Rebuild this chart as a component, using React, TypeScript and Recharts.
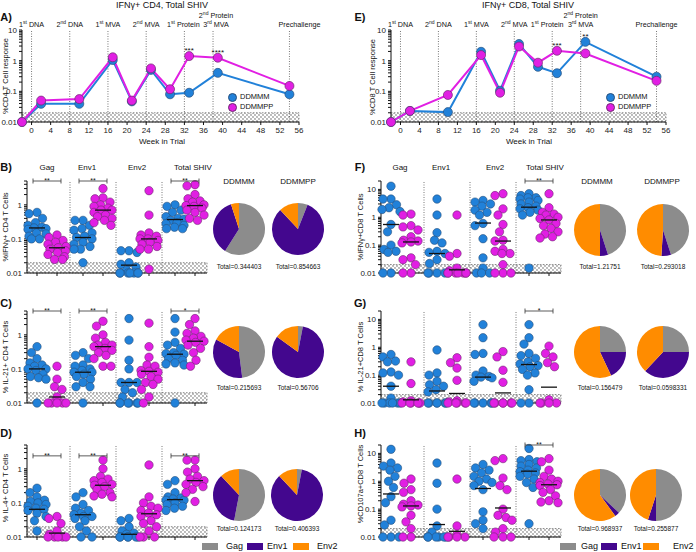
import React from 'react';
import {
	Cell,
	Line,
	LineChart,
	Pie,
	PieChart,
	ReferenceArea,
	ReferenceDot,
	ReferenceLine,
	Scatter,
	ScatterChart,
	XAxis,
	YAxis,
} from 'recharts';

const FONT = '"Liberation Sans", Arial, Helvetica, sans-serif';
const BLUE = '#2181d9';
const BLUE_EDGE = '#28507c';
const MAGENTA = '#e11fe3';
const MAGENTA_EDGE = '#6e2a70';
const PIE_COLORS = ['#8c8c8c', '#43078e', '#ff8c00'];

// ---- A / E time course (weeks in trial)
const weeks = [-2, 2, 10, 17, 21, 25, 29, 33, 39, 54];
const cd4Ddmmm = [0.01, 0.039, 0.039, 1.05, 0.047, 0.5, 0.08, 0.09, 0.4, 0.08];
const cd4Ddmmpp = [0.01, 0.05, 0.056, 1.29, 0.05, 0.56, 0.117, 1.41, 1.25, 0.15];
const cd8Ddmmm = [0.01, 0.023, 0.021, 1.95, 0.105, 3.5, 0.63, 0.39, 4.1, 0.3];
const cd8Ddmmpp = [0.01, 0.023, 0.076, 1.52, 0.09, 2.9, 0.86, 2.1, 1.72, 0.22];
const weekTicks = [0, 4, 8, 12, 16, 20, 24, 28, 32, 36, 40, 44, 48, 52, 56];
const eventWeeks = [0, 8, 16, 24, 32, 38, 54];
const eventLabels = [
	[['1', 'st', ' DNA']],
	[['2', 'nd', ' DNA']],
	[['1', 'st', ' MVA']],
	[['2', 'nd', ' MVA']],
	[['1', 'st', ' Protein']],
	[['2', 'nd', ' Protein'], ['3', 'rd', ' MVA']],
	[['', '', 'Prechallenge']],
];
const cd4Stars = [
	{week: 33, value: 1.41, label: '***'},
	{week: 39, value: 1.25, label: '****'},
];
const cd8Stars = [
	{week: 33, value: 2.1, label: '***'},
	{week: 39, value: 4.1, label: '**'},
];

// ---- dot plots: columns = Gag DDMMM, Gag DDMMPP, Env1 .., Env1 .., Env2 .., Env2 .., Total .., Total ..
const ifnCd4 = [
	[0.6, 0.55, 0.4, 0.3, 0.25, 0.22, 0.21, 0.2, 0.19, 0.15, 0.14, 0.12, 0.1, 0.1],
	[0.13, 0.11, 0.09, 0.08, 0.07, 0.06, 0.055, 0.05, 0.045, 0.04, 0.035, 0.03, 0.025, 0.025],
	[0.35, 0.35, 0.25, 0.2, 0.18, 0.15, 0.12, 0.11, 0.1, 0.08, 0.07, 0.06, 0.05, 0.05, 0.02],
	[3.0, 1.6, 1.5, 1.2, 1.0, 0.9, 0.8, 0.7, 0.7, 0.6, 0.5, 0.45, 0.4, 0.35, 0.3, 0.25],
	[0.045, 0.045, 0.04, 0.02, 0.018, 0.015, 0.012, 0.01, 0.01, 0.01, 0.01, 0.01, 0.01, 0.01],
	[2.6, 0.5, 0.15, 0.13, 0.12, 0.1, 0.1, 0.09, 0.08, 0.07, 0.06, 0.05, 0.05, 0.013],
	[1.0, 0.9, 0.7, 0.6, 0.45, 0.4, 0.38, 0.35, 0.3, 0.28, 0.25, 0.22, 0.2, 0.2],
	[3.9, 3.6, 2.0, 1.5, 1.3, 1.2, 1.0, 0.95, 0.9, 0.8, 0.7, 0.6, 0.5, 0.4, 0.35],
];
const ifnCd4Medians = [0.21, 0.055, 0.11, 0.7, 0.017, 0.1, 0.37, 0.95];

const il21Cd4 = [
	[0.45, 0.3, 0.2, 0.15, 0.13, 0.12, 0.1, 0.1, 0.09, 0.07, 0.06, 0.055, 0.05, 0.01],
	[0.12, 0.05, 0.03, 0.025, 0.015, 0.01, 0.01, 0.01, 0.01, 0.01],
	[0.3, 0.25, 0.2, 0.13, 0.12, 0.1, 0.09, 0.08, 0.08, 0.07, 0.06, 0.05, 0.04, 0.03, 0.03, 0.01],
	[2.5, 1.8, 1.0, 0.8, 0.6, 0.5, 0.5, 0.45, 0.4, 0.35, 0.3, 0.25, 0.2, 0.12, 0.12],
	[3.0, 0.7, 0.18, 0.1, 0.04, 0.04, 0.04, 0.025, 0.02, 0.015, 0.01, 0.01, 0.01, 0.01, 0.01, 0.01],
	[2.2, 0.45, 0.22, 0.13, 0.12, 0.09, 0.085, 0.08, 0.07, 0.06, 0.05, 0.04, 0.035, 0.025, 0.015, 0.01],
	[3.0, 1.2, 0.6, 0.5, 0.4, 0.3, 0.28, 0.27, 0.25, 0.2, 0.18, 0.15, 0.14, 0.13, 0.01],
	[3.0, 2.0, 1.3, 1.1, 0.9, 0.8, 0.7, 0.65, 0.6, 0.5, 0.4, 0.3, 0.18, 0.12],
];
const il21Cd4Medians = [0.1, 0.015, 0.08, 0.45, 0.04, 0.085, 0.27, 0.65];

const il4Cd4 = [
	[0.27, 0.2, 0.15, 0.12, 0.11, 0.1, 0.09, 0.08, 0.07, 0.065, 0.06, 0.05, 0.04, 0.03, 0.015],
	[0.04, 0.035, 0.025, 0.015, 0.012, 0.01, 0.01, 0.01, 0.01, 0.01],
	[0.2, 0.15, 0.09, 0.07, 0.06, 0.05, 0.045, 0.04, 0.04, 0.035, 0.03, 0.02, 0.015, 0.01, 0.01],
	[1.8, 1.0, 0.6, 0.5, 0.45, 0.4, 0.35, 0.33, 0.3, 0.25, 0.2, 0.18, 0.16, 0.15],
	[0.035, 0.03, 0.02, 0.015, 0.013, 0.012, 0.01, 0.01, 0.01, 0.01, 0.01, 0.01],
	[1.3, 0.15, 0.1, 0.08, 0.07, 0.06, 0.05, 0.045, 0.04, 0.03, 0.025, 0.02, 0.015, 0.01, 0.01, 0.01],
	[0.45, 0.35, 0.2, 0.15, 0.14, 0.13, 0.12, 0.12, 0.1, 0.09, 0.08, 0.07, 0.06],
	[1.8, 1.8, 1.0, 0.8, 0.6, 0.5, 0.45, 0.4, 0.35, 0.3, 0.25, 0.2, 0.11],
];
const il4Cd4Medians = [0.065, 0.013, 0.045, 0.33, 0.012, 0.048, 0.125, 0.45];

const ifnCd8 = [
	[13, 4.5, 4.5, 2.8, 2.2, 1.9, 1.6, 0.55, 0.3, 0.1, 0.07, 0.06, 0.055, 0.01, 0.01],
	[1.3, 1.2, 0.5, 0.45, 0.35, 0.2, 0.15, 0.14, 0.13, 0.12, 0.035, 0.03, 0.02, 0.01, 0.01],
	[4.5, 1.2, 0.28, 0.15, 0.12, 0.06, 0.055, 0.05, 0.03, 0.022, 0.01, 0.01, 0.01, 0.01],
	[1.2, 0.05, 0.04, 0.015, 0.012, 0.01, 0.01, 0.01, 0.01, 0.01, 0.01, 0.01],
	[4, 3.5, 3, 2.5, 1.8, 1.5, 1.2, 0.6, 0.5, 0.17, 0.035, 0.015, 0.01, 0.01, 0.01],
	[7, 6, 2, 1.2, 0.55, 0.3, 0.15, 0.14, 0.07, 0.06, 0.05, 0.05, 0.02, 0.01, 0.01, 0.01],
	[7, 6, 5, 5, 4.5, 4, 3.5, 3, 2.5, 2.2, 2, 1.8, 1.5, 1.2, 0.015],
	[7, 2.2, 1.5, 1.3, 1.2, 1.0, 0.9, 0.8, 0.6, 0.5, 0.4, 0.3, 0.25, 0.2, 0.18],
];
const ifnCd8Medians = [0.55, 0.13, 0.05, 0.013, 0.62, 0.14, 2.3, 0.8];

const il21Cd8 = [
	[0.55, 0.45, 0.32, 0.3, 0.13, 0.12, 0.1, 0.04, 0.015, 0.01, 0.01, 0.01, 0.01, 0.01, 0.01],
	[0.3, 0.05, 0.012, 0.011, 0.01, 0.01, 0.01, 0.01, 0.01, 0.01],
	[0.8, 0.12, 0.1, 0.06, 0.045, 0.04, 0.03, 0.025, 0.01, 0.01, 0.01, 0.01, 0.01, 0.01],
	[0.42, 0.28, 0.18, 0.065, 0.012, 0.011, 0.01, 0.01, 0.01, 0.01, 0.01],
	[6.5, 2.2, 0.6, 0.55, 0.14, 0.1, 0.09, 0.085, 0.08, 0.06, 0.01, 0.01, 0.01, 0.01, 0.01],
	[0.7, 0.45, 0.15, 0.055, 0.01, 0.01, 0.01, 0.01, 0.01, 0.01],
	[6.5, 2.2, 1.3, 0.6, 0.5, 0.4, 0.3, 0.25, 0.22, 0.2, 0.16, 0.12, 0.1, 0.03, 0.01, 0.01],
	[1.1, 0.6, 0.45, 0.28, 0.2, 0.013, 0.01, 0.01, 0.01, 0.01],
];
const il21Cd8Medians = [0.04, 0.013, 0.027, 0.022, 0.085, 0.023, 0.24, 0.037];

const cd107Cd8 = [
	[14, 4.5, 3.5, 3, 2.5, 1.5, 1.0, 0.6, 0.28, 0.17, 0.04, 0.027, 0.01, 0.01, 0.01],
	[1.2, 0.85, 0.5, 0.4, 0.2, 0.15, 0.14, 0.13, 0.12, 0.06, 0.035, 0.02, 0.01, 0.01],
	[4.5, 0.85, 0.1, 0.025, 0.015, 0.01, 0.01, 0.01, 0.01, 0.01, 0.01],
	[1.2, 0.025, 0.012, 0.01, 0.01, 0.01, 0.01],
	[4, 3, 2.5, 2, 1.5, 1.2, 1.0, 0.9, 0.7, 0.5, 0.08, 0.04, 0.03, 0.02],
	[6.5, 5.5, 1.3, 0.7, 0.5, 0.1, 0.06, 0.05, 0.04, 0.02, 0.015, 0.01, 0.01, 0.01],
	[15, 6, 5.5, 5, 4, 3.5, 3, 2.5, 2.2, 2, 1.8, 1.5, 1.2, 0.9, 0.6, 0.03],
	[6.5, 5, 2.5, 1.5, 1.2, 1.0, 0.9, 0.8, 0.75, 0.7, 0.5, 0.4, 0.3, 0.2, 0.18, 0.17],
];
const cd107Cd8Medians = [0.35, 0.13, 0.028, 0.016, 0.55, 0.11, 2.3, 0.75];

// ---- pies: [Gag, Env1, Env2] share per vaccine group
const ifnCd4Pies = [[0.59, 0.36, 0.05], [0.06, 0.82, 0.12]];
const il21Cd4Pies = [[0.48, 0.35, 0.17], [0.03, 0.82, 0.15]];
const il4Cd4Pies = [[0.53, 0.35, 0.12], [0.03, 0.85, 0.12]];
const ifnCd8Pies = [[0.45, 0.05, 0.5], [0.45, 0.06, 0.49]];
const il21Cd8Pies = [[0.25, 0.18, 0.57], [0.25, 0.37, 0.38]];
const cd107Cd8Pies = [[0.37, 0.03, 0.6], [0.5, 0.05, 0.45]];
const ifnCd4Totals = ['Total=0.344403', 'Total=0.854663'];
const il21Cd4Totals = ['Total=0.215693', 'Total=0.56706'];
const il4Cd4Totals = ['Total=0.124173', 'Total=0.406393'];
const ifnCd8Totals = ['Total=1.21751', 'Total=0.293018'];
const il21Cd8Totals = ['Total=0.156479', 'Total=0.0598331'];
const cd107Cd8Totals = ['Total=0.968937', 'Total=0.255877'];
const antigens = ['Gag', 'Env1', 'Env2'];
const groupNames = ['Gag', 'Env1', 'Env2', 'Total SHIV'];

// layout of a dot plot
const PLOT_W = 180;
const PLOT_H = 92;
const Y_W = 27;
const TOP_M = 14;
const X_LO = -0.5;
const X_HI = 8.5;
const STEP = 2.3;
const PX = PLOT_W / (X_HI - X_LO);
const DOT_R = 4.2;

const logTicks = (hi: number) => {
	const t: number[] = [];
	for (let d = 0.01; d <= hi * 1.0001; d *= 10) {
		for (let k = 1; k < 10; k++) {
			const v = +(d * k).toPrecision(2);
			if (v <= hi * 1.0001) t.push(v);
		}
	}
	return t;
};
const decadeLabel = (v: number) =>
	[0.01, 0.1, 1, 10].includes(+v) ? String(v) : '';

// simple beeswarm: spread dots sideways so they don't pile up
function swarm(values: number[], center: number, hi: number) {
	const span = Math.log10(hi) + 2;
	const placed: {dx: number; py: number}[] = [];
	return [...values]
		.sort((a, b) => b - a)
		.map(v => {
			const py = ((Math.log10(v) + 2) / span) * PLOT_H;
			let best = 0;
			let bestScore = Infinity;
			for (let k = 0; k <= 36; k++) {
				const dx = k % 2 === 0 ? k / 4 : -(k + 1) / 4;
				let overlap = 0;
				for (const p of placed) {
					const d = Math.hypot(p.dx - dx, p.py - py);
					if (d < 8) overlap += 8 - d;
				}
				const score = overlap * 10 + Math.abs(dx);
				if (score < bestScore) {
					bestScore = score;
					best = dx;
				}
			}
			placed.push({dx: best, py});
			return {x: center + best / PX, y: v};
		});
}

const hatch = (id: string) => (
	<pattern id={id} width="4" height="4" patternUnits="userSpaceOnUse">
		<rect width="4" height="4" fill="#fff" />
		<circle cx="1" cy="1" r="0.65" fill="#444" />
		<circle cx="3" cy="3" r="0.65" fill="#444" />
	</pattern>
);

const dotShape = (fill: string, edge: string) => (p: any) => (
	<circle cx={p.cx} cy={p.cy} r={DOT_R} fill={fill} stroke={edge} strokeWidth={0.6} />
);

const medianShape = (p: any) => (
	<line x1={p.cx - 8} x2={p.cx + 8} y1={p.cy} y2={p.cy} stroke="#111" strokeWidth={1.3} />
);

const bracketShape = (p: any) => (
	<g>
		<path
			d={`M${p.cx - 14},${p.cy - 2.5}v5M${p.cx - 14},${p.cy}h28M${p.cx + 14},${p.cy - 2.5}v5`}
			stroke="#333"
			strokeWidth={0.8}
			fill="none"
		/>
		<text x={p.cx} y={p.cy + 2} textAnchor="middle" fontSize={7} fill="#111">
			{p.payload.label}
		</text>
	</g>
);

const colTicks = [0, 1, 2, 3].flatMap(g => [g * STEP, g * STEP + 1]);
const dividers = [0, 1, 2].map(g => g * STEP + 1.65);

function DotPanel({plotLeft, plotTop, hi, cols, medians, brackets, id}: any) {
	const blue = cols
		.filter((_: number[], i: number) => i % 2 === 0)
		.flatMap((vals: number[], g: number) => swarm(vals, g * STEP, hi));
	const pink = cols
		.filter((_: number[], i: number) => i % 2 === 1)
		.flatMap((vals: number[], g: number) => swarm(vals, g * STEP + 1, hi));
	const med = medians.map((m: number, i: number) => ({
		x: Math.floor(i / 2) * STEP + (i % 2),
		y: m,
	}));
	const br = brackets.map((b: any) => ({x: b.group * STEP + 0.5, y: b.y, label: b.label}));

	return (
		<div style={{position: 'absolute', left: plotLeft - Y_W, top: plotTop - TOP_M}}>
			<ScatterChart
				width={Y_W + PLOT_W + 8}
				height={TOP_M + PLOT_H + 8}
				margin={{top: TOP_M, right: 8, bottom: 0, left: 0}}
			>
				<defs>{hatch(id)}</defs>
				<XAxis
					type="number"
					dataKey="x"
					domain={[X_LO, X_HI]}
					ticks={colTicks}
					interval={0}
					tickFormatter={() => ''}
					tickSize={3}
					height={8}
					stroke="#111"
				/>
				<YAxis
					type="number"
					dataKey="y"
					scale="log"
					domain={[0.01, hi]}
					ticks={logTicks(hi)}
					interval={0}
					tickFormatter={decadeLabel}
					tickSize={3}
					width={Y_W}
					stroke="#111"
					tick={{fontSize: 8, fill: '#222'}}
				/>
				<ReferenceArea
					y1={0.01}
					y2={0.02}
					fill={`url(#${id})`}
					fillOpacity={1}
					stroke="#444"
					strokeDasharray="1.5 1.5"
					strokeWidth={0.6}
				/>
				{dividers.map(x => (
					<ReferenceLine key={x} x={x} stroke="#555" strokeDasharray="1 1.5" strokeWidth={0.8} />
				))}
				<Scatter data={blue} shape={dotShape(BLUE, BLUE_EDGE)} isAnimationActive={false} />
				<Scatter data={pink} shape={dotShape(MAGENTA, MAGENTA_EDGE)} isAnimationActive={false} />
				<Scatter data={med} shape={medianShape} isAnimationActive={false} />
				<Scatter data={br} shape={bracketShape} isAnimationActive={false} />
			</ScatterChart>
		</div>
	);
}

const EventLabel = (props: any) => {
	const {viewBox, lines, dx = 0} = props;
	const x = viewBox.x + dx;
	return (
		<g>
			{lines.map((ln: string[], i: number) => (
				<text
					key={i}
					x={x}
					y={viewBox.y - 3.5 - (lines.length - 1 - i) * 9}
					textAnchor="middle"
					fontSize={7.2}
					fill="#111"
				>
					{ln[1] ? (
						<>
							<tspan>{ln[0]}</tspan>
							<tspan fontSize={5} dy={-3}>
								{ln[1]}
							</tspan>
							<tspan dy={3}>{ln[2]}</tspan>
						</>
					) : (
						ln[2]
					)}
				</text>
			))}
		</g>
	);
};

function TrialChart({left, width, rightMargin, a, b, stars, labelDx, id}: any) {
	const data = weeks.map((w, i) => ({week: w, ddmmm: a[i], ddmmpp: b[i]}));
	return (
		<div style={{position: 'absolute', left, top: 0}}>
			<LineChart
				width={width}
				height={150}
				data={data}
				margin={{top: 30, right: rightMargin, bottom: 0, left: 0}}
			>
				<defs>{hatch(id)}</defs>
				<XAxis
					dataKey="week"
					type="number"
					domain={[-2, 56]}
					ticks={weekTicks}
					interval={0}
					tickSize={3}
					height={28}
					stroke="#111"
					tick={{fontSize: 8, fill: '#222'}}
				/>
				<YAxis
					type="number"
					scale="log"
					domain={[0.01, 10]}
					ticks={logTicks(10)}
					interval={0}
					tickFormatter={decadeLabel}
					tickSize={3}
					width={22}
					stroke="#111"
					tick={{fontSize: 8, fill: '#222'}}
				/>
				<ReferenceArea
					y1={0.01}
					y2={0.02}
					fill={`url(#${id})`}
					fillOpacity={1}
					stroke="#444"
					strokeDasharray="1.5 1.5"
					strokeWidth={0.6}
				/>
				{eventWeeks.map((w, i) => (
					<ReferenceLine
						key={w}
						x={w}
						stroke="#555"
						strokeDasharray="1 1.5"
						strokeWidth={0.8}
						label={<EventLabel lines={eventLabels[i]} dx={labelDx[i]} />}
					/>
				))}
				<Line
					dataKey="ddmmm"
					stroke={BLUE}
					strokeWidth={2}
					dot={{r: 4.5, fill: BLUE, stroke: BLUE_EDGE, strokeWidth: 0.7}}
					isAnimationActive={false}
				/>
				<Line
					dataKey="ddmmpp"
					stroke={MAGENTA}
					strokeWidth={2}
					dot={{r: 4.5, fill: MAGENTA, stroke: MAGENTA_EDGE, strokeWidth: 0.7}}
					isAnimationActive={false}
				/>
				{stars.map((s: any) => (
					<ReferenceDot
						key={s.week}
						x={s.week}
						y={s.value}
						r={0}
						stroke="none"
						label={{value: s.label, position: 'top', offset: 3, fontSize: 8, fill: '#111'}}
					/>
				))}
			</LineChart>
		</div>
	);
}

function PieBox({cx, cy, values, total, totalY}: any) {
	const data = antigens.map((name, i) => ({name, v: values[i]}));
	return (
		<>
			<div style={{position: 'absolute', left: cx - 30, top: cy - 30}}>
				<PieChart width={60} height={60} margin={{top: 0, right: 0, bottom: 0, left: 0}}>
					<Pie
						data={data}
						dataKey="v"
						cx="50%"
						cy="50%"
						outerRadius={26}
						startAngle={90}
						endAngle={-270}
						stroke="none"
						isAnimationActive={false}
					>
						{data.map((d, i) => (
							<Cell key={d.name} fill={PIE_COLORS[i]} />
						))}
					</Pie>
				</PieChart>
			</div>
			<Txt x={cx} y={totalY} size={6.5}>
				{total}
			</Txt>
		</>
	);
}

function Txt({x, y, children, size = 8, bold = false, rotate = false, anchor = 'middle'}: any) {
	const tx = anchor === 'start' ? '0' : '-50%';
	return (
		<div
			style={{
				position: 'absolute',
				left: x,
				top: y,
				transform: `translate(${tx}, -50%)${rotate ? ' rotate(-90deg)' : ''}`,
				fontSize: size,
				fontWeight: bold ? 700 : 400,
				whiteSpace: 'nowrap',
				lineHeight: 1,
			}}
		>
			{children}
		</div>
	);
}

function LegendDot({x, y, color, edge, label}: any) {
	return (
		<>
			<div
				style={{
					position: 'absolute',
					left: x - 4.5,
					top: y - 4.5,
					width: 9,
					height: 9,
					borderRadius: '50%',
					background: color,
					boxSizing: 'border-box',
					border: `0.7px solid ${edge}`,
				}}
			/>
			<Txt x={x + 8} y={y} size={7.5} anchor="start">
				{label}
			</Txt>
		</>
	);
}

function Swatches({xs, y}: any) {
	return (
		<>
			{antigens.map((name, i) => (
				<React.Fragment key={name}>
					<div
						style={{
							position: 'absolute',
							left: xs[i][0],
							top: y - 3.5,
							width: 16,
							height: 7,
							background: PIE_COLORS[i],
						}}
					/>
					<Txt x={xs[i][1]} y={y} size={9} anchor="start">
						{name}
					</Txt>
				</React.Fragment>
			))}
		</>
	);
}

export default function App() {
	const leftPies = [239, 298];
	const rightPies = [600, 663];
	return (
		<div
			style={{
				position: 'absolute',
				left: 0,
				top: 0,
				width: 696,
				height: 552,
				background: '#fff',
				fontFamily: FONT,
				color: '#111',
				overflow: 'hidden',
			}}
		>
			<TrialChart
				left={0}
				width={335}
				rightMargin={36}
				a={cd4Ddmmm}
				b={cd4Ddmmpp}
				stars={cd4Stars}
				labelDx={[0, 0, 0, 0, -1, 3, 10]}
				id="hatchA"
			/>
			<TrialChart
				left={369}
				width={327}
				rightMargin={30}
				a={cd8Ddmmm}
				b={cd8Ddmmpp}
				stars={cd8Stars}
				labelDx={[0, 0, 0, 0, -5, 0, 0]}
				id="hatchE"
			/>

			<DotPanel plotLeft={27} plotTop={181} hi={5} cols={ifnCd4} medians={ifnCd4Medians} id="hB"
				brackets={[{group: 0, label: '**', y: 5}, {group: 1, label: '**', y: 5}, {group: 3, label: '**', y: 5}]} />
			<DotPanel plotLeft={27} plotTop={311} hi={5} cols={il21Cd4} medians={il21Cd4Medians} id="hC"
				brackets={[{group: 0, label: '**', y: 5}, {group: 1, label: '**', y: 5}, {group: 3, label: '*', y: 5}]} />
			<DotPanel plotLeft={27} plotTop={445} hi={5} cols={il4Cd4} medians={il4Cd4Medians} id="hD"
				brackets={[{group: 0, label: '**', y: 2.4}, {group: 1, label: '**', y: 2.4}, {group: 3, label: '**', y: 2.4}]} />
			<DotPanel plotLeft={381} plotTop={181} hi={20} cols={ifnCd8} medians={ifnCd8Medians} id="hF"
				brackets={[{group: 3, label: '**', y: 20}]} />
			<DotPanel plotLeft={381} plotTop={311} hi={20} cols={il21Cd8} medians={il21Cd8Medians} id="hG"
				brackets={[{group: 3, label: '*', y: 20}]} />
			<DotPanel plotLeft={381} plotTop={445} hi={20} cols={cd107Cd8} medians={cd107Cd8Medians} id="hH"
				brackets={[{group: 3, label: '**', y: 20}]} />

			{[0, 1].map(i => (
				<React.Fragment key={i}>
					<PieBox cx={leftPies[i]} cy={229} values={ifnCd4Pies[i]} total={ifnCd4Totals[i]} totalY={267} />
					<PieBox cx={leftPies[i]} cy={352} values={il21Cd4Pies[i]} total={il21Cd4Totals[i]} totalY={388} />
					<PieBox cx={leftPies[i] - i} cy={495} values={il4Cd4Pies[i]} total={il4Cd4Totals[i]} totalY={529} />
					<PieBox cx={rightPies[i]} cy={230} values={ifnCd8Pies[i]} total={ifnCd8Totals[i]} totalY={267} />
					<PieBox cx={rightPies[i]} cy={352} values={il21Cd8Pies[i]} total={il21Cd8Totals[i]} totalY={388} />
					<PieBox cx={rightPies[i] - i * 7} cy={495} values={cd107Cd8Pies[i]} total={cd107Cd8Totals[i]} totalY={529} />
				</React.Fragment>
			))}

			<Txt x={162} y={5} size={9}>IFNγ+ CD4, Total SHIV</Txt>
			<Txt x={528} y={5} size={9}>IFNγ+ CD8, Total SHIV</Txt>
			<Txt x={162} y={142} size={8}>Week in Trial</Txt>
			<Txt x={529} y={142} size={8}>Week in Trial</Txt>
			<Txt x={6} y={76} size={7.5} rotate>%CD4 T Cell response</Txt>
			<Txt x={373} y={77} size={7.5} rotate>%CD8 T Cell response</Txt>

			<LegendDot x={232} y={97} color={BLUE} edge={BLUE_EDGE} label="DDMMM" />
			<LegendDot x={232} y={107} color={MAGENTA} edge={MAGENTA_EDGE} label="DDMMPP" />
			<LegendDot x={610} y={97} color={BLUE} edge={BLUE_EDGE} label="DDMMM" />
			<LegendDot x={610} y={107} color={MAGENTA} edge={MAGENTA_EDGE} label="DDMMPP" />

			{[['A)', 6, 17], ['B)', 6, 167], ['C)', 6, 303], ['D)', 6, 433], ['E)', 360, 17], ['F)', 360, 167], ['G)', 360, 303], ['H)', 360, 433]].map(
				([t, x, y]) => (
					<Txt key={t as string} x={x} y={y} size={11} bold>
						{t}
					</Txt>
				),
			)}

			{groupNames.map((g, i) => (
				<React.Fragment key={g}>
					<Txt x={[47, 87, 137, 193][i]} y={168} size={8}>{g}</Txt>
					<Txt x={[400, 441, 495, 545][i]} y={168} size={8}>{g}</Txt>
				</React.Fragment>
			))}
			<Txt x={239} y={182} size={8}>DDMMM</Txt>
			<Txt x={298} y={182} size={8}>DDMMPP</Txt>
			<Txt x={597} y={182} size={8}>DDMMM</Txt>
			<Txt x={662} y={182} size={8}>DDMMPP</Txt>

			<Txt x={6} y={227} size={7.5} rotate>%IFNγ+ CD4 T Cells</Txt>
			<Txt x={6} y={357} size={7.5} rotate>% IL-21+ CD4 T Cells</Txt>
			<Txt x={6} y={488} size={7.5} rotate>% IL-4+ CD4 T Cells</Txt>
			<Txt x={361} y={227} size={7.5} rotate>%IFNγ+CD8 T Cells</Txt>
			<Txt x={361} y={357} size={7.5} rotate>% IL-21+CD8 T Cells</Txt>
			<Txt x={361} y={484} size={7.5} rotate>%CD107a+CD8 T Cells</Txt>

			<Swatches xs={[[202, 226], [247, 267], [293, 317]]} y={546} />
			<Swatches xs={[[560, 581], [601, 621], [643, 673]]} y={546} />
		</div>
	);
}
